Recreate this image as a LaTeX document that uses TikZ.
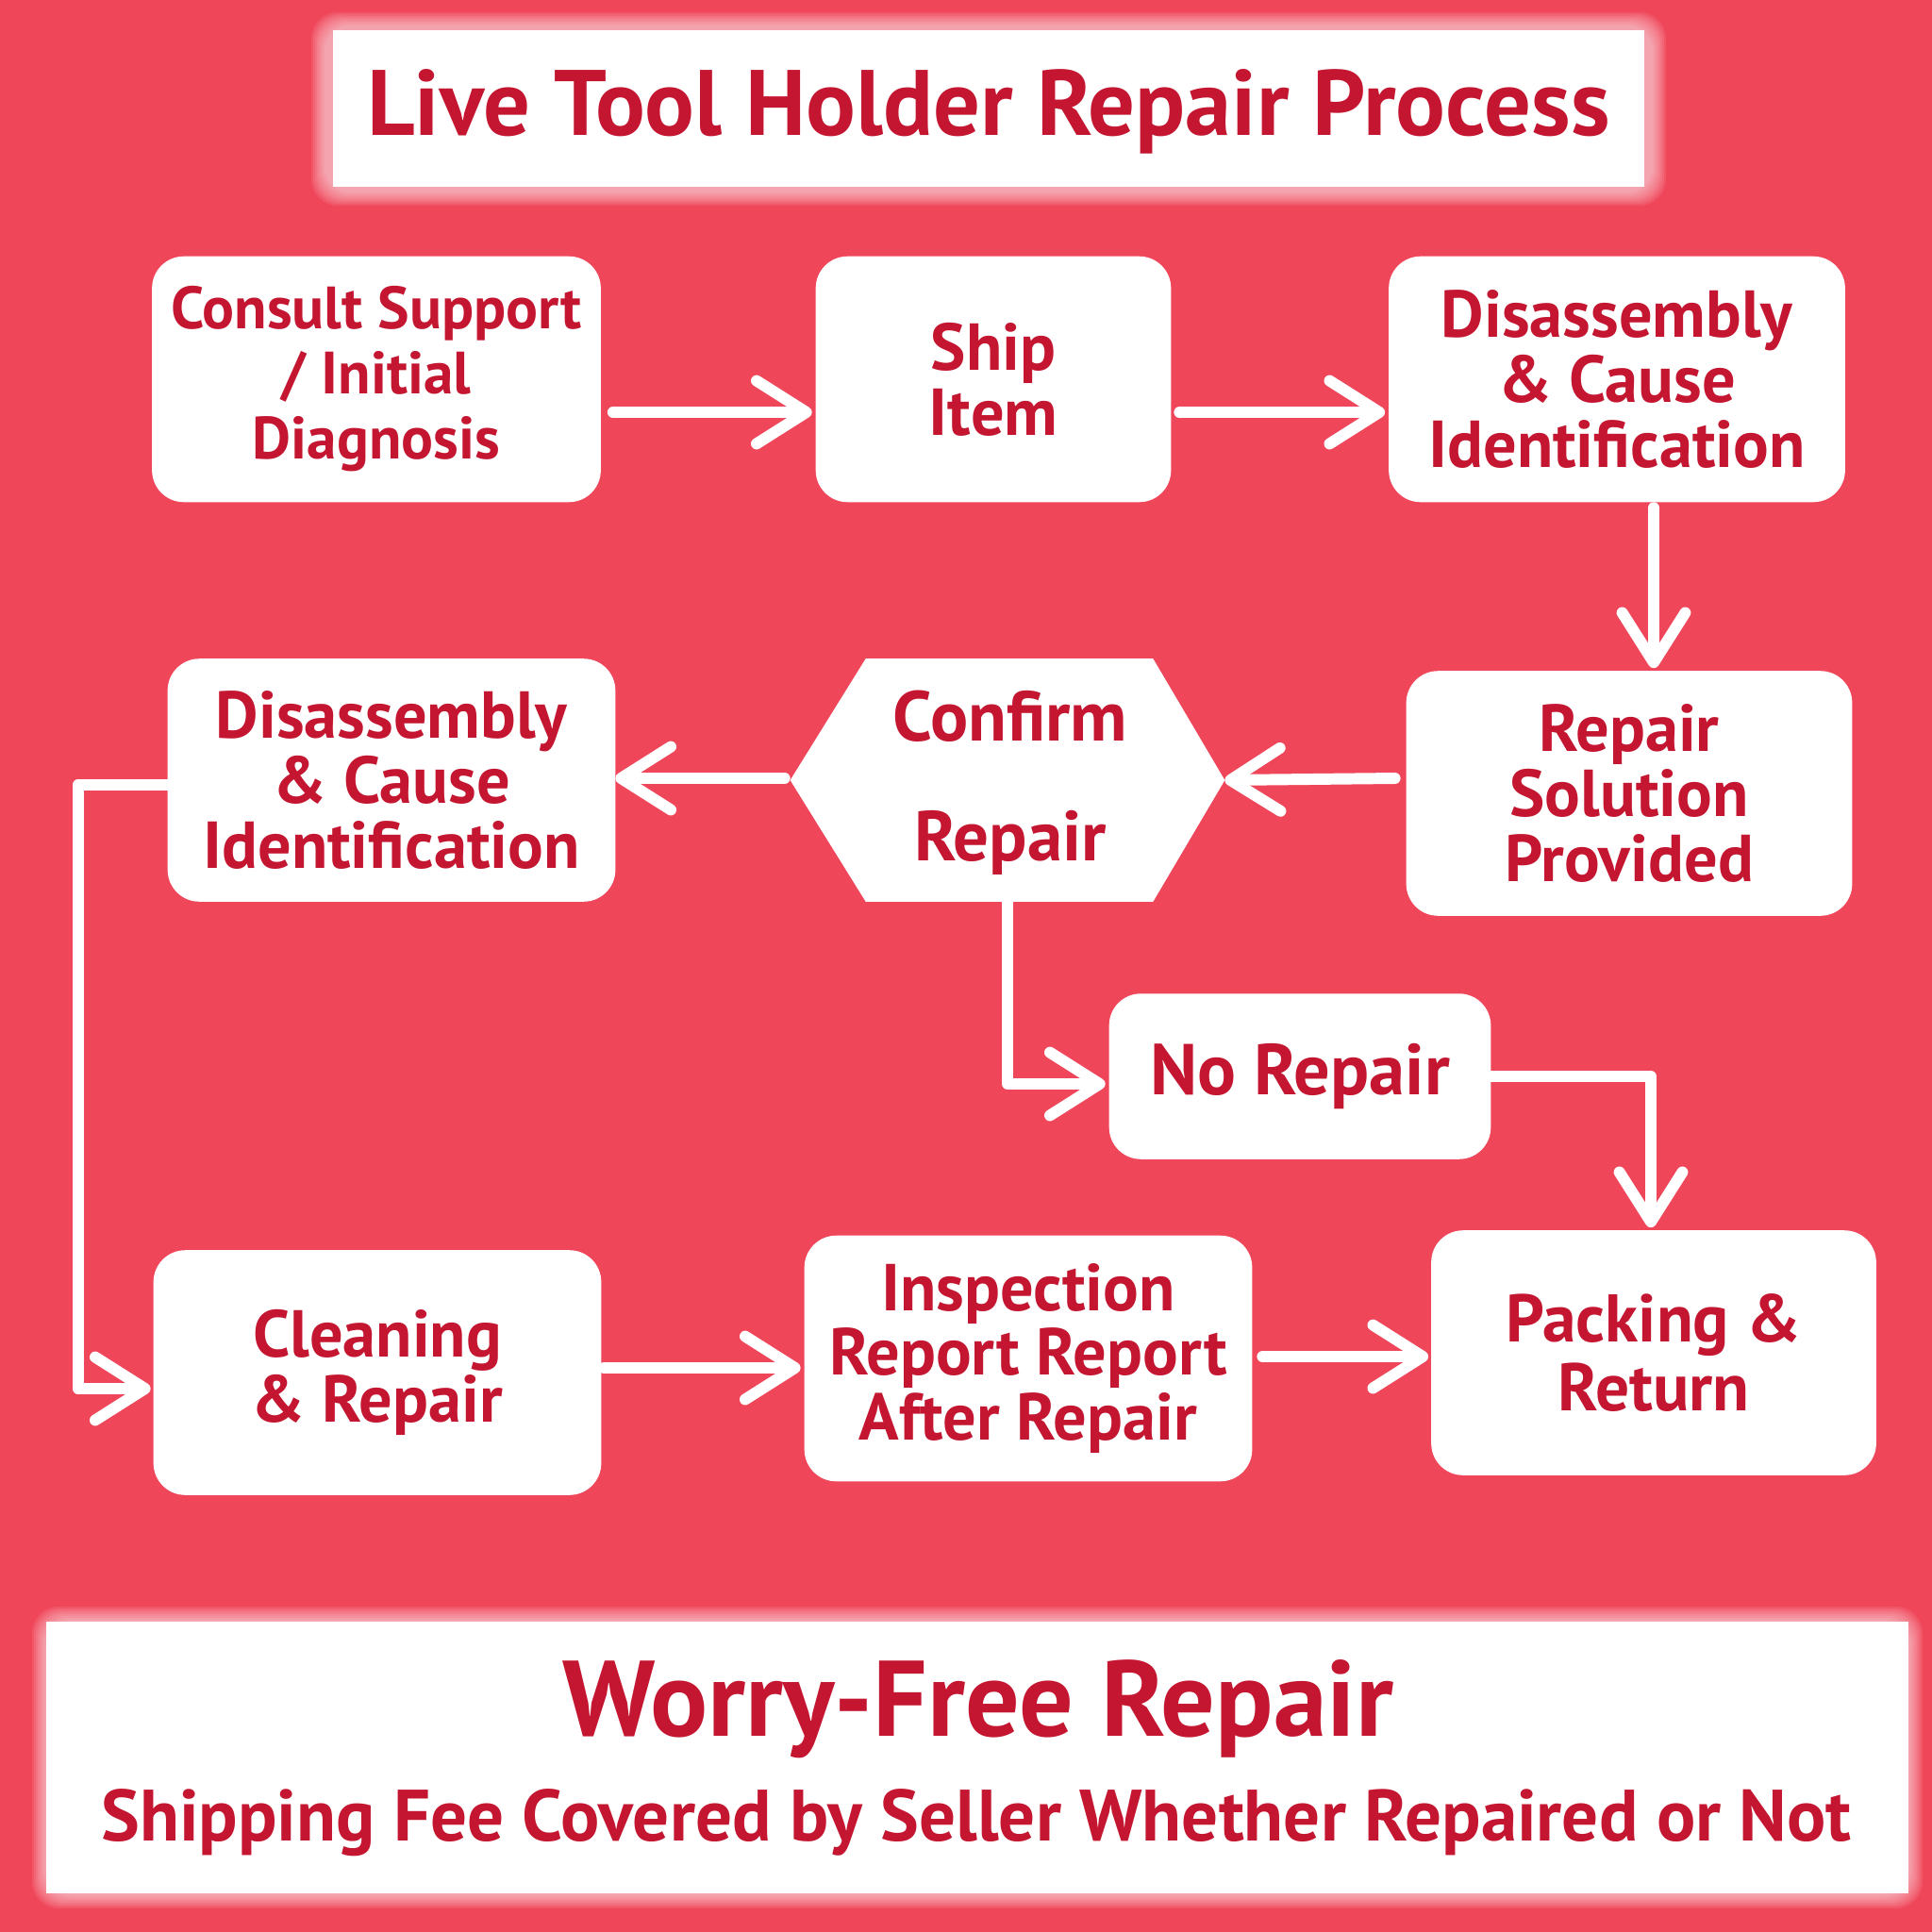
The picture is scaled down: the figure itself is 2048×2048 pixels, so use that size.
\documentclass[tikz,border=0pt]{standalone}
\usepackage{fontspec}
\setmainfont{PT Sans}
\usetikzlibrary{arrows.meta,calc}
\definecolor{bgred}{RGB}{240,70,90}
\definecolor{txtred}{RGB}{196,22,48}
\begin{document}
\begin{tikzpicture}[x=0.01cm,y=-0.01cm,
  boxtxt/.style={font=\bfseries\fontsize{20pt}{19.6pt}\selectfont, text=txtred, align=center},
  stepbox/.style={boxtxt, draw=white, fill=white, rounded corners=0.33cm, inner sep=0pt},
  conn/.style={draw=white, line width=3.4pt, line cap=round, line join=round,
    -{Straight Barb[length=15pt,width=19pt,line cap=round,line join=round]}}
]
\fill[bgred] (0,0) rectangle (2048,2048);
\useasboundingbox (0,0) rectangle (2048,2048);
% title
\foreach \e in {2,4,...,16}{
  \fill[white,opacity=0.09,rounded corners=8pt] (346-\e,29-\e) rectangle (1750+\e,202+\e);}
\node[fill=white, minimum width=13.9cm, minimum height=1.65cm, inner sep=0pt] (titlebox) at (1048,115) {};
\node[font=\bfseries\fontsize{28pt}{30pt}\selectfont, text=txtred] (title) at (1048,118) {Live Tool Holder Repair Process};
% boxes
\node[stepbox, minimum width=4.74cm, minimum height=2.59cm, font=\bfseries\fontsize{18pt}{19.6pt}\selectfont] (consult) at (399,402) {Consult Support\\/ Initial\\Diagnosis};
\node[stepbox, minimum width=3.75cm, minimum height=2.59cm] (ship) at (1053,402) {Ship\\Item};
\node[stepbox, minimum width=4.82cm, minimum height=2.59cm] (dis1) at (1714,402) {Disassembly\\\& Cause\\Identification};
\node[stepbox, minimum width=4.71cm, minimum height=2.58cm] (repsol) at (1727,841) {Repair\\Solution\\Provided};
\node[boxtxt, minimum width=4.59cm, minimum height=2.56cm, inner sep=0pt] (confirm) at (1068,827) {};
\fill[white] (confirm.west) -- ($(confirm.north west)+(80,0)$) -- ($(confirm.north east)+(-76,0)$) -- (confirm.east) -- ($(confirm.south east)+(-76,0)$) -- ($(confirm.south west)+(80,0)$) -- cycle;
\node[boxtxt, font=\bfseries\fontsize{21.3pt}{36pt}\selectfont] (conftxt) at (1071,830) {Confirm\\[0pt]Repair};
\node[stepbox, minimum width=4.73cm, minimum height=2.56cm] (dis2) at (415,827) {Disassembly\\\& Cause\\Identification};
\node[stepbox, minimum width=4.03cm, minimum height=1.74cm, font=\bfseries\fontsize{21.7pt}{22pt}\selectfont] (norep) at (1378,1141) {No Repair};
\node[stepbox, minimum width=4.73cm, minimum height=2.58cm] (clean) at (400,1455) {Cleaning\\\& Repair};
\node[stepbox, minimum width=4.73cm, minimum height=2.59cm] (insp) at (1090,1440) {Inspection\\Report Report\\After Repair};
\node[stepbox, minimum width=4.70cm, minimum height=2.58cm, font=\bfseries\fontsize{20.3pt}{20.5pt}\selectfont] (pack) at (1753,1434) {Packing \&\\Return};
% bottom banner
\foreach \e in {2,4,...,16}{
  \fill[white,opacity=0.09,rounded corners=8pt] (50-\e,1719-\e) rectangle (2022+\e,2007+\e);}
\node[fill=white, minimum width=19.72cm, minimum height=2.88cm, inner sep=0pt] (banner) at (1036,1863) {};
\node[font=\bfseries\fontsize{32.4pt}{34pt}\selectfont, text=txtred] (worry) at (1037,1812) {Worry-Free Repair};
\node[font=\bfseries\fontsize{21.9pt}{24pt}\selectfont, text=txtred] (shipfee) at (1035,1932) {Shipping Fee Covered by Seller Whether Repaired or Not};
% connectors
\draw[conn] ($(consult.east)+(13,35)$) -- ($(ship.west)+(-4,35)$);
\draw[conn] ($(ship.east)+(9,35)$) -- ($(dis1.west)+(-4,35)$);
\draw[conn] ($(dis1.south)+(39,6)$) -- ($(repsol.north)+(26,-3)$);
\draw[conn] ($(repsol.west)+(-12,-16)$) -- (confirm.east);
\draw[conn] ($(confirm.west)+(-6,-2)$) -- ($(dis2.east)+(0,-2)$);
\draw[conn] (confirm.south) |- ($(norep.west)+(-4,8)$);
\draw[conn] (norep.east) -| ($(pack.north)+(-3,-3)$);
\draw[conn] ($(dis2.west)+(0,5)$) -- ++(-95,0) |- ($(clean.west)+(-3,17)$);
\draw[conn] ($(clean.east)+(3,-5)$) -- ($(insp.west |- clean.east)+(-4,-5)$);
\draw[conn] ($(insp.east)+(11,-2)$) -- ($(pack.west |- insp.east)+(-3,-2)$);
\end{tikzpicture}
\end{document}
